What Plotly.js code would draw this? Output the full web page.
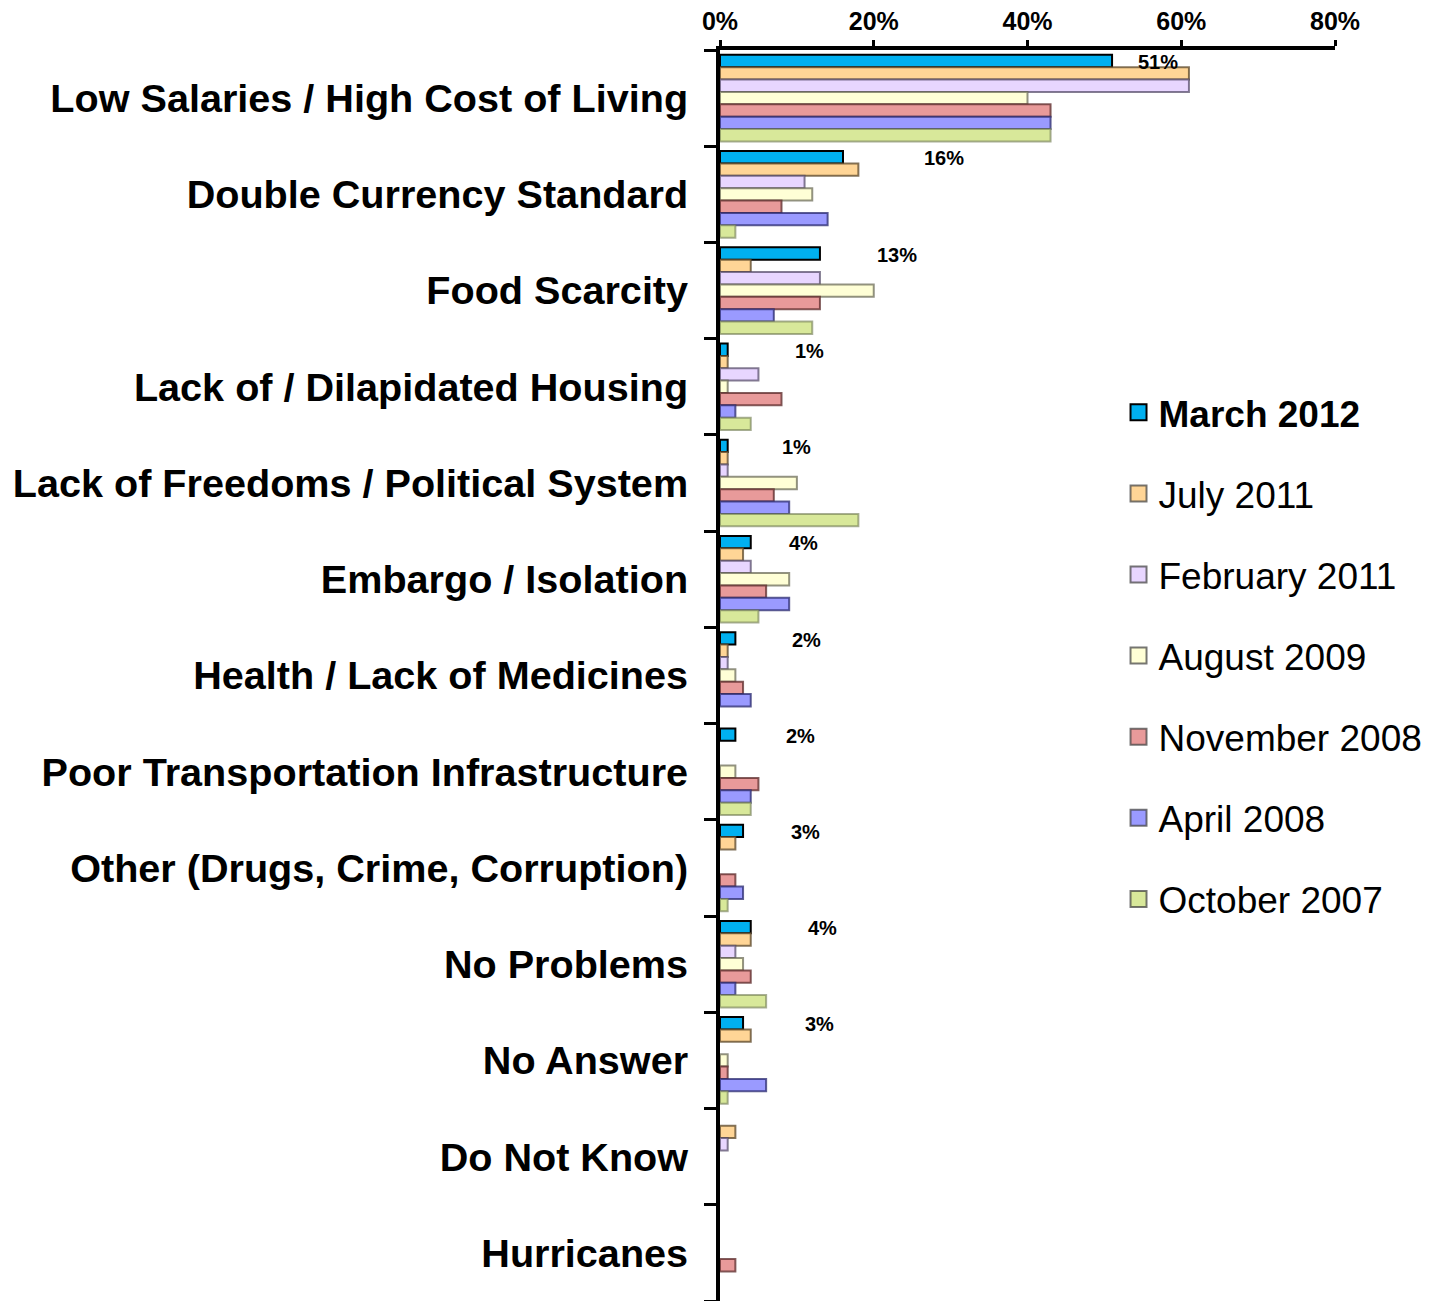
<!DOCTYPE html>
<html>
<head>
<meta charset="utf-8">
<script src="https://cdn.plot.ly/plotly-3.0.1.min.js"></script>
<style>html,body{margin:0;padding:0;background:#fff;}#chart{width:1450px;height:1301px;}</style>
</head>
<body>
<div id="chart"></div>
<script>
const categories = [
  "Low Salaries / High Cost of Living",
  "Double Currency Standard",
  "Food Scarcity",
  "Lack of / Dilapidated Housing",
  "Lack of Freedoms / Political System",
  "Embargo / Isolation",
  "Health / Lack of Medicines",
  "Poor Transportation Infrastructure",
  "Other (Drugs, Crime, Corruption)",
  "No Problems",
  "No Answer",
  "Do Not Know",
  "Hurricanes"
];
const seriesNames = ["March 2012", "July 2011", "February 2011", "August 2009", "November 2008", "April 2008", "October 2007"];
const march2012 = [51, 16, 13, 1, 1, 4, 2, 2, 3, 4, 3, 0, 0];
const july2011  = [61, 18, 4, 1, 1, 3, 1, 0, 2, 4, 4, 2, 0];
const feb2011   = [61, 11, 13, 5, 1, 4, 1, 0, 0, 2, 0, 1, 0];
const aug2009   = [40, 12, 20, 1, 10, 9, 2, 2, 0, 3, 1, 0, 0];
const nov2008   = [43, 8, 13, 8, 7, 6, 3, 5, 2, 4, 1, 0, 2];
const apr2008   = [43, 14, 7, 2, 9, 9, 4, 4, 3, 2, 6, 0, 0];
const oct2007   = [43, 2, 12, 4, 18, 5, 0, 4, 1, 6, 1, 0, 0];
const xTickVals = [0, 20, 40, 60, 80];

const seriesValues = [march2012, july2011, feb2011, aug2009, nov2008, apr2008, oct2007];
const fills = ["#00B0F0", "#FFD596", "#E8D6FF", "#FFFFD6", "#E89A9A", "#9A9AFF", "#D8E89A"];
const borders = ["#000000", "rgba(90,70,40,0.75)", "rgba(80,70,100,0.7)", "rgba(100,100,80,0.7)",
                 "rgba(90,40,40,0.75)", "rgba(40,40,110,0.75)", "rgba(110,120,80,0.6)"];

const FONT = "Arial, 'Liberation Sans', sans-serif";
const traces = [];
seriesValues.forEach((vals, i) => {
  traces.push({
    type: "bar", orientation: "h",
    x: vals.map(v => v === 0 ? null : v), y: categories,
    name: seriesNames[i],
    showlegend: false,
    marker: {color: fills[i], line: {color: borders[i], width: 2}},
    hoverinfo: "x+name"
  });
});
// legend entries
seriesValues.forEach((vals, i) => {
  traces.push({
    type: "scatter", mode: "markers",
    x: [null], y: [null],
    name: i === 0 ? "<b>" + seriesNames[i] + "</b>" : seriesNames[i],
    legendgroup: "g" + i,
    showlegend: true,
    marker: {symbol: "square", size: 16, color: fills[i], line: {color: i === 0 ? "#000" : "rgba(60,60,60,0.7)", width: 2}}
  });
});

// pixel shift of each March label from the end of its bar
const labelShift = [46, 101, 77, 82, 69, 53, 71, 65, 62, 72, 76, 0, 0];
const annotations = [];
march2012.forEach((v, i) => {
  if (v > 0) {
    annotations.push({
      x: v, y: categories[i], xref: "x", yref: "y",
      text: "<b>" + v + "%</b>", showarrow: false,
      xanchor: "center", yanchor: "middle",
      xshift: labelShift[i], yshift: 36,
      font: {family: FONT, size: 20, color: "#000"}
    });
  }
});

const layout = {
  width: 1450, height: 1301,
  margin: {l: 720, r: 115, t: 50, b: 0, pad: 0},
  paper_bgcolor: "#fff", plot_bgcolor: "#fff",
  barmode: "group", bargap: 0.1, bargroupgap: 0,
  showlegend: true,
  legend: {
    x: 0.648, y: 0.7348, xanchor: "left", yanchor: "top",
    traceorder: "grouped", tracegroupgap: 30,
    font: {family: FONT, size: 37, color: "#000"},
    bgcolor: "rgba(0,0,0,0)", borderwidth: 0
  },
  xaxis: {
    side: "top", range: [0, 80], fixedrange: true,
    tickvals: xTickVals, ticktext: xTickVals.map(v => "<b>" + v + "%</b>"),
    ticks: "outside", ticklen: 6, tickwidth: 3, tickcolor: "#000",
    showline: true, linecolor: "#000", linewidth: 4,
    showgrid: false, zeroline: false,
    tickfont: {family: FONT, size: 25, color: "#000"}
  },
  yaxis: {
    type: "category", autorange: "reversed",
    categoryorder: "array", categoryarray: categories,
    tickvals: categories, ticktext: categories.map(c => "<b>" + c + "</b>"),
    ticks: "outside", tickson: "boundaries", ticklen: 12, tickwidth: 3, tickcolor: "#000",
    showline: true, linecolor: "#000", linewidth: 4,
    showgrid: false, zeroline: false, ticklabelstandoff: 20,
    tickfont: {family: FONT, size: 39.6, color: "#000"}
  },
  annotations: annotations
};

Plotly.newPlot("chart", traces, layout, {displayModeBar: false, staticPlot: true});
</script>
</body>
</html>
